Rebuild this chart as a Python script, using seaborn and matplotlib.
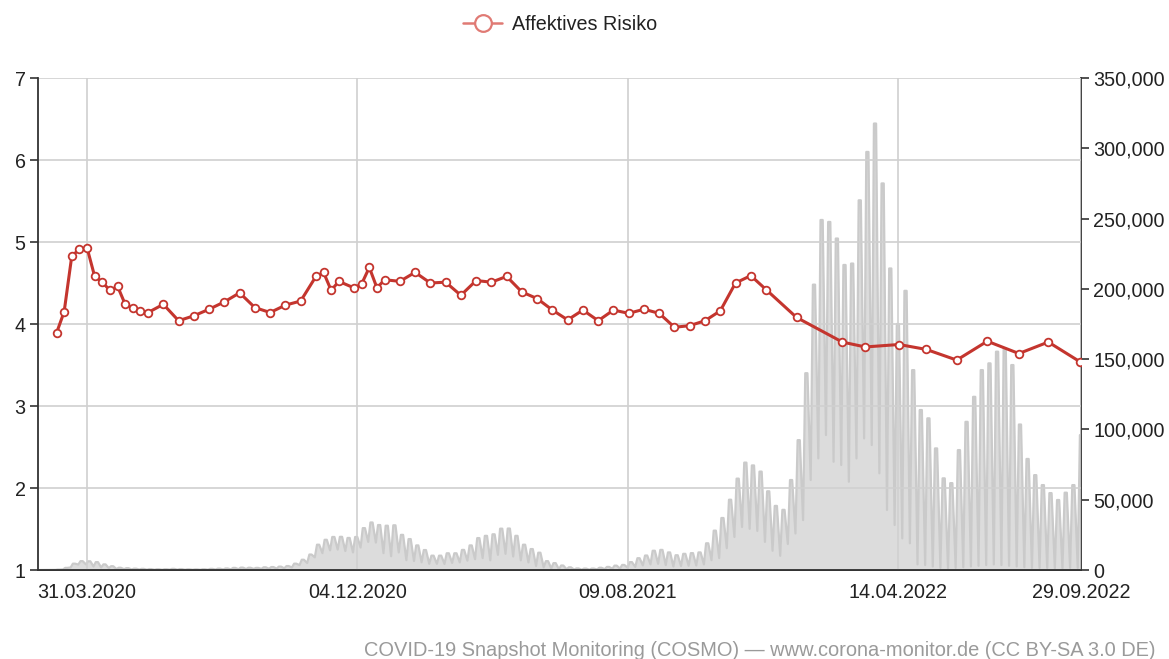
import numpy as np
import pandas as pd
import matplotlib
matplotlib.use("Agg")
import matplotlib.pyplot as plt
import seaborn as sns
from matplotlib.lines import Line2D
from matplotlib.ticker import FuncFormatter

# COSMO survey: "Affektives Risiko" (left axis)
risk_dates = [
    "2020-03-03", "2020-03-10", "2020-03-17", "2020-03-24", "2020-03-31", "2020-04-07",
    "2020-04-14", "2020-04-21", "2020-04-28", "2020-05-05", "2020-05-12", "2020-05-19",
    "2020-05-26", "2020-06-09", "2020-06-23", "2020-07-07", "2020-07-21", "2020-08-04",
    "2020-08-18", "2020-09-01", "2020-09-15", "2020-09-29", "2020-10-13", "2020-10-27",
    "2020-11-03", "2020-11-10", "2020-11-17", "2020-12-01", "2020-12-08", "2020-12-15",
    "2020-12-22", "2020-12-29", "2021-01-12", "2021-01-26", "2021-02-09", "2021-02-23",
    "2021-03-09", "2021-03-23", "2021-04-06", "2021-04-20", "2021-05-04", "2021-05-18",
    "2021-06-01", "2021-06-15", "2021-06-29", "2021-07-13", "2021-07-27", "2021-08-10",
    "2021-08-24", "2021-09-07", "2021-09-21", "2021-10-05", "2021-10-19", "2021-11-02",
    "2021-11-16", "2021-11-30", "2021-12-14", "2022-01-11", "2022-02-22", "2022-03-15",
    "2022-04-15", "2022-05-10", "2022-06-07", "2022-07-05", "2022-08-03", "2022-08-30",
    "2022-09-28",
]
risk_values = [
    3.89, 4.15, 4.83, 4.91, 4.93, 4.58,
    4.51, 4.41, 4.46, 4.24, 4.20, 4.16,
    4.14, 4.24, 4.04, 4.10, 4.18, 4.27,
    4.38, 4.20, 4.14, 4.23, 4.28, 4.58,
    4.63, 4.41, 4.52, 4.44, 4.49, 4.69,
    4.44, 4.54, 4.52, 4.63, 4.50, 4.51,
    4.35, 4.53, 4.51, 4.58, 4.39, 4.31,
    4.17, 4.05, 4.17, 4.04, 4.17, 4.13,
    4.18, 4.13, 3.96, 3.98, 4.04, 4.16,
    4.50, 4.59, 4.42, 4.08, 3.78, 3.72,
    3.75, 3.69, 3.56, 3.79, 3.64, 3.78,
    3.54,
]

# daily reported cases (right axis), read as weekly high (midweek) / low (Mon), weeks from 17.02.2020
case_week_start = "2020-02-17"
case_high = [
    # 2020
    10, 60, 300, 1500, 4500, 6300, 6200, 5600, 4000, 2700, 1600, 1300, 950, 800, 650,
    550, 550, 800, 650, 500, 450, 550, 800, 950, 1100, 1500, 1700, 1600, 1500, 1900,
    2100, 2400, 2800, 4500, 7300, 11000, 18000, 21500, 23500, 23600, 22800, 23500,
    29800, 33800, 32000, 31500,
    # 2021
    31800, 25000, 22000, 17500, 14200, 10200, 10200, 11900, 11900, 14300, 17500, 22700,
    24300, 25400, 29400, 29500, 24300, 18000, 14900, 12300, 6300, 4900, 3200, 1900,
    1100, 1000, 1000, 1600, 2200, 3100, 3600, 5600, 8400, 10300, 13700, 14300, 12500,
    10500, 11500, 12000, 12500, 19000, 28000, 37000, 50000, 65000, 76400, 74400, 70000,
    56000, 45600, 42800,
    # 2022
    64000, 92400, 140000, 203000, 249000, 247600, 235800, 217000, 218000, 263000,
    297400, 317600, 275000, 214500, 175000, 198600, 142200, 113800, 107900, 86500,
    65200, 61800, 85300, 105400, 123200, 142200, 147000, 155300, 157600, 145800,
    103500, 79000, 67500, 60400, 54700, 49800, 55000, 60400, 96000,
]
case_low = [
    # 2020
    0, 10, 100, 400, 1800, 3900, 4000, 2500, 1800, 1300, 700, 600, 350, 350, 250,
    200, 200, 300, 250, 200, 200, 200, 250, 350, 400, 450, 600, 700, 800, 800,
    900, 1000, 1200, 1800, 3500, 5000, 9000, 12000, 14000, 14500, 13500, 12500,
    16000, 20000, 19500, 12000,
    # 2021
    9800, 12500, 7000, 6400, 5500, 4400, 4400, 4300, 5000, 5400, 6600, 7700,
    8500, 6900, 10800, 11500, 9600, 6900, 5400, 2900, 1900, 1100, 500, 500,
    300, 200, 200, 400, 600, 900, 1000, 1700, 2200, 3300, 4000, 4400, 3500,
    2500, 2800, 3000, 3200, 4000, 7000, 8500, 15500, 23500, 30600, 29300, 27800,
    20000, 13700, 10100,
    # 2022
    18500, 26000, 35500, 64000, 79400, 96000, 77000, 74700, 62800, 79400,
    93600, 88900, 68800, 42700, 32000, 22500, 19000, 4000, 3500, 2500,
    1500, 1000, 1500, 2000, 2500, 3000, 3500, 4000, 3500, 3000,
    2500, 2000, 1500, 1500, 1500, 1200, 1200, 1500, 1500,
]

tick_dates = ["2020-03-31", "2020-12-04", "2021-08-09", "2022-04-14", "2022-09-29"]
tick_labels = ["31.03.2020", "04.12.2020", "09.08.2021", "14.04.2022", "29.09.2022"]

sns.set_style("white")
plt.rcParams["font.family"] = ["Liberation Sans", "DejaVu Sans"]
FS = 14.2

risk_df = pd.DataFrame({"date": pd.to_datetime(risk_dates), "risk": risk_values})

# each week: low on Monday, high held Wednesday to Friday
weeks = pd.date_range(case_week_start, periods=len(case_high), freq="7D")
cases_df = pd.concat([
    pd.DataFrame({"date": weeks, "cases": case_low}),
    pd.DataFrame({"date": weeks + pd.Timedelta(days=2), "cases": case_high}),
    pd.DataFrame({"date": weeks + pd.Timedelta(days=4), "cases": case_high}),
]).sort_values("date").reset_index(drop=True)

fig = plt.figure(figsize=(11.69, 6.59), dpi=100)
ax = fig.add_axes([38 / 1169, 1 - 570 / 659, (1081 - 38) / 1169, (570 - 78) / 659])
ax2 = ax.twinx()

# gray case area behind the risk line
ax2.fill_between(cases_df["date"], cases_df["cases"], color="#dcdcdc", lw=0)
sns.lineplot(data=cases_df, x="date", y="cases", ax=ax2, color="#cacaca", lw=1.6)
ax2.set_ylim(0, 350000)
ax2.set_yticks(np.arange(0, 350001, 50000))
ax2.yaxis.set_major_formatter(FuncFormatter(lambda v, p: f"{int(v):,}"))
ax2.set_ylabel("")
ax2.set_xlabel("")

ax.set_zorder(ax2.get_zorder() + 1)
ax.patch.set_visible(False)

sns.lineplot(data=risk_df, x="date", y="risk", ax=ax, color="#c4352e", lw=2.2,
             marker="o", markersize=5.5, markerfacecolor="white",
             markeredgecolor="#c4352e", markeredgewidth=1.3)
ax.set_ylim(1, 7)
ax.set_yticks(range(1, 8))
ax.set_xlim(pd.Timestamp("2020-02-15"), pd.Timestamp("2022-09-29"))
ax.set_xticks(pd.to_datetime(tick_dates))
ax.set_xticklabels(tick_labels)
ax.set_xlabel("")
ax.set_ylabel("")
ax.grid(True, color="#d0d0d0", lw=1.2)

for a in (ax, ax2):
    a.tick_params(axis="both", length=6, width=1.2, color="#333333",
                  labelsize=FS, labelcolor="#222222", pad=3)
    a.spines["top"].set_visible(False)
    for side in ("left", "right", "bottom"):
        a.spines[side].set_color("#333333")
        a.spines[side].set_linewidth(1.3)
ax.spines["right"].set_visible(False)
ax2.spines["left"].set_visible(False)

handle = Line2D([], [], color="#e07a74", lw=1.8, marker="o", markersize=12,
                markerfacecolor="white", markeredgecolor="#e07a74", markeredgewidth=1.6)
fig.legend(handles=[handle], labels=["Affektives Risiko"], loc="center",
           bbox_to_anchor=(560 / 1169, 1 - 24 / 659), frameon=False,
           fontsize=FS, handlelength=2.0, handletextpad=0.5, labelcolor="#222222")

fig.text(1155 / 1169, 1 - 650 / 659,
         "COVID-19 Snapshot Monitoring (COSMO) \u2014 www.corona-monitor.de (CC BY-SA 3.0 DE)",
         ha="right", va="center", fontsize=14.4, color="#9a9a9a")

fig.savefig("out.png", dpi=100)
